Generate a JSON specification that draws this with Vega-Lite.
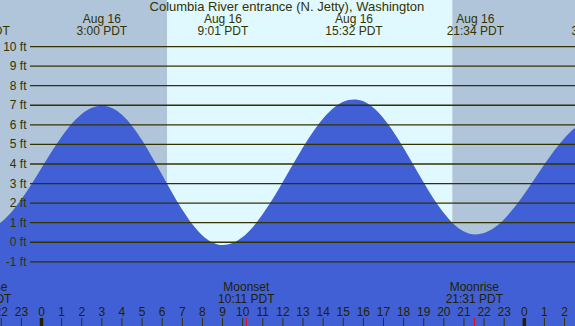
{
  "$schema": "https://vega.github.io/schema/vega-lite/v6.json",
  "width": 575,
  "height": 326,
  "padding": 0,
  "autosize": {"type": "none"},
  "view": {"stroke": null},
  "config": {"text": {"font": "Liberation Sans", "fontSize": 12, "color": "#333300"}},
  "datasets": {
    "bands": [
      {"start": -3, "end": 6.25, "kind": "night"},
      {"start": 6.25, "end": 20.42, "kind": "day"},
      {"start": 20.42, "end": 28, "kind": "night"}
    ],
    "tide": [
      {"t": -2.5, "h": 0.71}, {"t": -2, "h": 1.03}, {"t": -1.5, "h": 1.53}, {"t": -1, "h": 2.2},
      {"t": -0.5, "h": 2.96}, {"t": 0, "h": 3.79}, {"t": 0.5, "h": 4.62}, {"t": 1, "h": 5.39},
      {"t": 1.5, "h": 6.05}, {"t": 2, "h": 6.55}, {"t": 2.5, "h": 6.87}, {"t": 3, "h": 6.98},
      {"t": 3.5, "h": 6.86}, {"t": 4, "h": 6.51}, {"t": 4.5, "h": 5.94}, {"t": 5, "h": 5.21},
      {"t": 5.5, "h": 4.35}, {"t": 6, "h": 3.44}, {"t": 6.5, "h": 2.52}, {"t": 7, "h": 1.66},
      {"t": 7.5, "h": 0.92}, {"t": 8, "h": 0.35}, {"t": 8.5, "h": -0.01}, {"t": 9.017, "h": -0.14},
      {"t": 9.5, "h": -0.04}, {"t": 10, "h": 0.27}, {"t": 10.5, "h": 0.77}, {"t": 11, "h": 1.44},
      {"t": 11.5, "h": 2.22}, {"t": 12, "h": 3.09}, {"t": 12.5, "h": 3.98}, {"t": 13, "h": 4.85},
      {"t": 13.5, "h": 5.65}, {"t": 14, "h": 6.33}, {"t": 14.5, "h": 6.85}, {"t": 15, "h": 7.18},
      {"t": 15.533, "h": 7.3}, {"t": 16, "h": 7.2}, {"t": 16.5, "h": 6.87}, {"t": 17, "h": 6.34},
      {"t": 17.5, "h": 5.64}, {"t": 18, "h": 4.82}, {"t": 18.5, "h": 3.94}, {"t": 19, "h": 3.05},
      {"t": 19.5, "h": 2.21}, {"t": 20, "h": 1.49}, {"t": 20.5, "h": 0.92}, {"t": 21, "h": 0.55},
      {"t": 21.567, "h": 0.4}, {"t": 22, "h": 0.47}, {"t": 22.5, "h": 0.74}, {"t": 23, "h": 1.18},
      {"t": 23.5, "h": 1.77}, {"t": 24, "h": 2.46}, {"t": 24.5, "h": 3.22}, {"t": 25, "h": 3.98},
      {"t": 25.5, "h": 4.7}, {"t": 26, "h": 5.33}, {"t": 26.5, "h": 5.82}, {"t": 27, "h": 6.15}
    ],
    "levels": [
      {"ft": -1, "label": "-1 ft"}, {"ft": 0, "label": "0 ft"}, {"ft": 1, "label": "1 ft"},
      {"ft": 2, "label": "2 ft"}, {"ft": 3, "label": "3 ft"}, {"ft": 4, "label": "4 ft"},
      {"ft": 5, "label": "5 ft"}, {"ft": 6, "label": "6 ft"}, {"ft": 7, "label": "7 ft"},
      {"ft": 8, "label": "8 ft"}, {"ft": 9, "label": "9 ft"}, {"ft": 10, "label": "10 ft"}
    ],
    "hours": [
      {"h": -2, "label": "22"}, {"h": -1, "label": "23"}, {"h": 0, "label": "0"}, {"h": 1, "label": "1"},
      {"h": 2, "label": "2"}, {"h": 3, "label": "3"}, {"h": 4, "label": "4"}, {"h": 5, "label": "5"},
      {"h": 6, "label": "6"}, {"h": 7, "label": "7"}, {"h": 8, "label": "8"}, {"h": 9, "label": "9"},
      {"h": 10, "label": "10"}, {"h": 11, "label": "11"}, {"h": 12, "label": "12"}, {"h": 13, "label": "13"},
      {"h": 14, "label": "14"}, {"h": 15, "label": "15"}, {"h": 16, "label": "16"}, {"h": 17, "label": "17"},
      {"h": 18, "label": "18"}, {"h": 19, "label": "19"}, {"h": 20, "label": "20"}, {"h": 21, "label": "21"},
      {"h": 22, "label": "22"}, {"h": 23, "label": "23"}, {"h": 24, "label": "0"}, {"h": 25, "label": "1"},
      {"h": 26, "label": "2"}
    ],
    "events": [
      {"t": -3.0, "label": "Aug 15\n21:00 PDT"},
      {"t": 3.0, "label": "Aug 16\n3:00 PDT"},
      {"t": 9.017, "label": "Aug 16\n9:01 PDT"},
      {"t": 15.533, "label": "Aug 16\n15:32 PDT"},
      {"t": 21.567, "label": "Aug 16\n21:34 PDT"},
      {"t": 27.6, "label": "Aug 17\n3:36 PDT"}
    ],
    "moon": [
      {"t": -2.92, "label": "Moonrise\n21:05 PDT"},
      {"t": 10.183, "label": "Moonset\n10:11 PDT"},
      {"t": 21.517, "label": "Moonrise\n21:31 PDT"}
    ],
    "title": [{"t": 12.2, "label": "Columbia River entrance (N. Jetty), Washington"}]
  },
  "encoding": {
    "x": {"type": "quantitative", "scale": {"domain": [-2.063, 26.52], "nice": false, "zero": false}, "axis": null}
  },
  "layer": [
    {
      "data": {"name": "bands"},
      "mark": {"type": "rect", "clip": true},
      "encoding": {
        "x": {"field": "start", "type": "quantitative"},
        "x2": {"field": "end"},
        "color": {"field": "kind", "type": "nominal", "scale": {"domain": ["night", "day"], "range": ["#B0C4DA", "#E0F8FF"]}, "legend": null}
      }
    },
    {
      "data": {"name": "tide"},
      "mark": {"type": "area", "interpolate": "monotone", "color": "#4160D5", "clip": true},
      "encoding": {
        "x": {"field": "t", "type": "quantitative"},
        "y": {"field": "h", "type": "quantitative", "scale": {"domain": [-4.28, 12.38], "nice": false, "zero": false}, "axis": null},
        "y2": {"datum": -4.28}
      }
    },
    {
      "data": {"name": "levels"},
      "mark": {"type": "rule", "color": "#333300", "strokeWidth": 1.3},
      "encoding": {
        "x": {"datum": -0.572},
        "x2": {"datum": 26.52},
        "y": {"field": "ft", "type": "quantitative"}
      }
    },
    {
      "data": {"name": "levels"},
      "mark": {"type": "text", "align": "right", "baseline": "middle"},
      "encoding": {
        "x": {"datum": -0.745},
        "y": {"field": "ft", "type": "quantitative"},
        "text": {"field": "label"}
      }
    },
    {
      "data": {"name": "hours"},
      "mark": {"type": "rule", "color": "#333300", "strokeWidth": 1, "clip": true},
      "encoding": {
        "x": {"field": "h", "type": "quantitative"},
        "y": {"datum": -4.28},
        "y2": {"datum": -3.87}
      }
    },
    {
      "data": {"name": "hours"},
      "transform": [{"filter": "datum.label == '0'"}],
      "mark": {"type": "rule", "color": "#222200", "strokeWidth": 3.5, "clip": true},
      "encoding": {
        "x": {"field": "h", "type": "quantitative"},
        "y": {"datum": -4.28},
        "y2": {"datum": -3.87}
      }
    },
    {
      "data": {"name": "moon"},
      "mark": {"type": "rule", "color": "#FF0000", "strokeWidth": 1, "clip": true},
      "encoding": {
        "x": {"field": "t", "type": "quantitative"},
        "y": {"datum": -4.28},
        "y2": {"datum": -3.87}
      }
    },
    {
      "data": {"name": "hours"},
      "mark": {"type": "text", "baseline": "middle", "color": "#222200", "clip": true},
      "encoding": {
        "x": {"field": "h", "type": "quantitative"},
        "y": {"datum": -3.56},
        "text": {"field": "label"}
      }
    },
    {
      "data": {"name": "events"},
      "mark": {"type": "text", "baseline": "middle", "lineBreak": "\n", "lineHeight": 12.5, "clip": true},
      "encoding": {
        "x": {"field": "t", "type": "quantitative"},
        "y": {"datum": 11.41},
        "text": {"field": "label"}
      }
    },
    {
      "data": {"name": "moon"},
      "mark": {"type": "text", "baseline": "middle", "lineBreak": "\n", "lineHeight": 12.5, "color": "#222200", "clip": true},
      "encoding": {
        "x": {"field": "t", "type": "quantitative"},
        "y": {"datum": -2.28},
        "text": {"field": "label"}
      }
    },
    {
      "data": {"name": "title"},
      "mark": {"type": "text", "baseline": "middle", "fontSize": 13},
      "encoding": {
        "x": {"field": "t", "type": "quantitative"},
        "y": {"datum": 12.0},
        "text": {"field": "label"}
      }
    }
  ]
}
